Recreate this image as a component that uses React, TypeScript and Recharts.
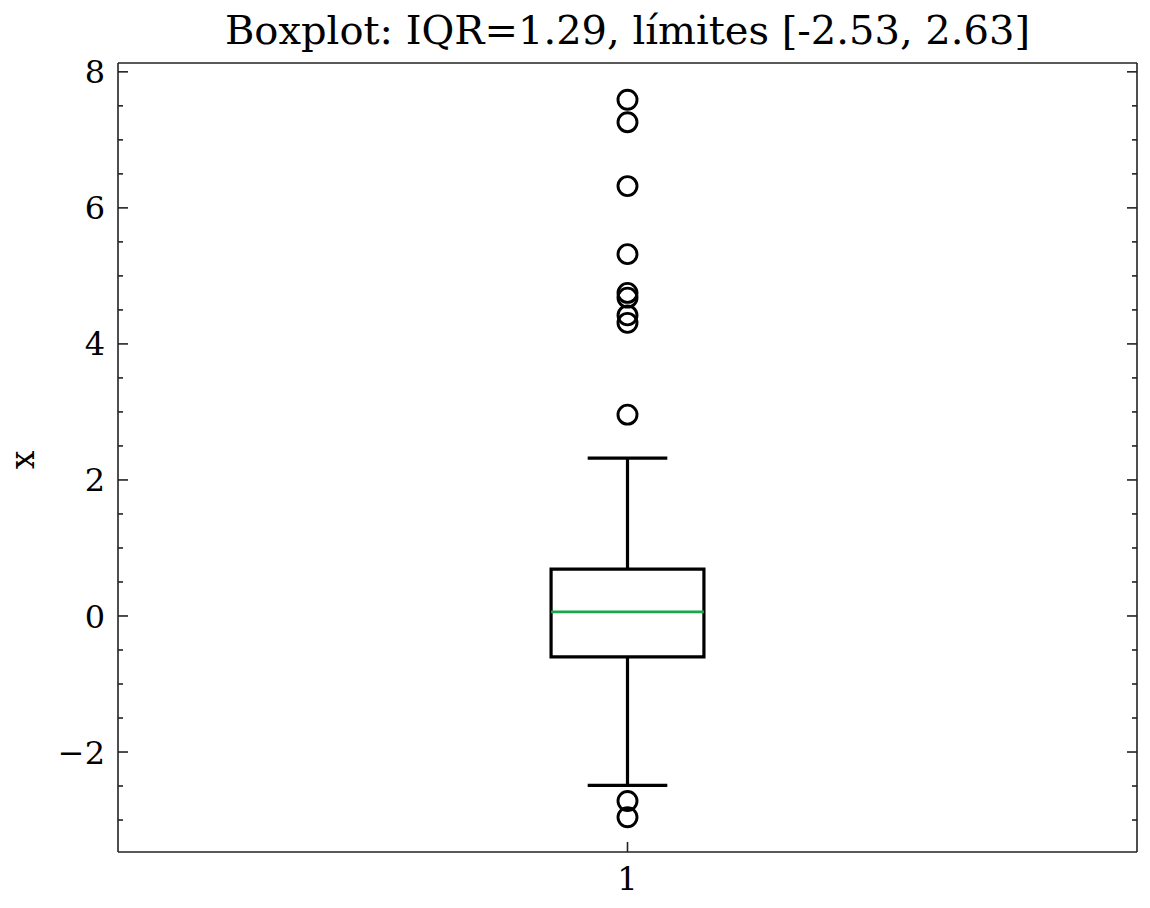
import React from "react";
import {
  ComposedChart,
  Scatter,
  XAxis,
  YAxis,
  ReferenceArea,
  ReferenceLine,
} from "recharts";

// box statistics
const positions = [1];
const lowerQuartile = [-0.6];
const medians = [0.06];
const upperQuartile = [0.69];
const lowerWhisker = [-2.49];
const upperWhisker = [2.32];
const outlierValues = [7.59, 7.26, 6.32, 5.32, 4.75, 4.68, 4.42, 4.31, 2.96, -2.72, -2.96];

const yMajorTicks = [-2, 0, 2, 4, 6, 8];
const yAllTicks = [-3, -2.5, -2, -1.5, -1, -0.5, 0, 0.5, 1, 1.5, 2, 2.5, 3, 3.5, 4, 4.5, 5, 5.5, 6, 6.5, 7, 7.5, 8];
const xTicks = [1];

const FONT = "'DejaVu Serif', serif";
const INK = "#222";
const BOX_W = 0.15;

const outlierData = outlierValues.map((v) => ({ x: positions[0], y: v }));

const LeftTick = (props: any) => {
  const { x, y, payload } = props;
  const major = yMajorTicks.includes(payload.value);
  return (
    <g>
      <line x1={x} x2={x + (major ? 10 : 5)} y1={y} y2={y} stroke={INK} strokeWidth={1.6} />
      {major && (
        <text x={x - 13} y={y} dy="0.36em" textAnchor="end" fontFamily={FONT} fontSize={32} fill="#000">
          {payload.value < 0 ? `\u2212${Math.abs(payload.value)}` : payload.value}
        </text>
      )}
    </g>
  );
};

const RightTick = (props: any) => {
  const { x, y, payload } = props;
  const major = yMajorTicks.includes(payload.value);
  return <line x1={x} x2={x - (major ? 10 : 5)} y1={y} y2={y} stroke={INK} strokeWidth={1.6} />;
};

const BottomTick = (props: any) => {
  const { x, y, payload } = props;
  return (
    <g>
      <line x1={x} x2={x} y1={y} y2={y - 10} stroke={INK} strokeWidth={1.6} />
      <text x={x} y={y + 38} textAnchor="middle" fontFamily={FONT} fontSize={32} fill="#000">
        {payload.value}
      </text>
    </g>
  );
};

const TopTick = (props: any) => {
  const { x, y } = props;
  return <line x1={x} x2={x} y1={y} y2={y + 10} stroke={INK} strokeWidth={1.6} />;
};

const Ring = (props: any) => {
  const { cx, cy } = props;
  return <circle cx={cx} cy={cy} r={9.5} fill="none" stroke="#000" strokeWidth={2.9} />;
};

export default function App() {
  const p = positions[0];
  return (
    <div style={{ position: "relative", width: 1142, height: 900 }}>
      <div
        style={{
          position: "absolute",
          left: 110,
          width: 1019,
          top: 2,
          textAlign: "center",
          fontFamily: FONT,
          fontSize: 40,
          lineHeight: "40px",
          color: "#000",
          whiteSpace: "nowrap",
        }}
      >
        Boxplot: IQR=1.29, límites [-2.53, 2.63]
      </div>
      <div
        style={{
          position: "absolute",
          left: 14,
          top: 452,
          transform: "translate(-50%, -50%) rotate(-90deg)",
          fontFamily: FONT,
          fontSize: 33,
          lineHeight: 1,
          color: "#000",
        }}
      >
        x
      </div>
      <ComposedChart
        width={1142}
        height={900}
        margin={{ top: 54, right: 12, bottom: 55, left: 109 }}
      >
        <XAxis
          xAxisId="bottom"
          type="number"
          dataKey="x"
          domain={[0.5, 1.5]}
          ticks={xTicks}
          interval={0}
          height={1}
          tickSize={0}
          tickMargin={0}
          tickLine={false}
          tick={<BottomTick />}
          axisLine={{ stroke: INK, strokeWidth: 1.6 }}
          allowDataOverflow
        />
        <XAxis
          xAxisId="top"
          orientation="top"
          type="number"
          domain={[0.5, 1.5]}
          ticks={xTicks}
          interval={0}
          height={1}
          tickSize={0}
          tickMargin={0}
          tickLine={false}
          tick={<TopTick />}
          axisLine={{ stroke: INK, strokeWidth: 1.6 }}
          allowDataOverflow
        />
        <YAxis
          yAxisId="left"
          type="number"
          dataKey="y"
          domain={[-3.47, 8.13]}
          ticks={yAllTicks}
          interval={0}
          width={1}
          tickSize={0}
          tickMargin={0}
          tickLine={false}
          tick={<LeftTick />}
          axisLine={{ stroke: INK, strokeWidth: 1.6 }}
          allowDataOverflow
        />
        <YAxis
          yAxisId="right"
          orientation="right"
          type="number"
          domain={[-3.47, 8.13]}
          ticks={yAllTicks}
          interval={0}
          width={1}
          tickSize={0}
          tickMargin={0}
          tickLine={false}
          tick={<RightTick />}
          axisLine={{ stroke: INK, strokeWidth: 1.6 }}
          allowDataOverflow
        />

        {/* whiskers */}
        <ReferenceLine
          xAxisId="bottom"
          yAxisId="left"
          segment={[{ x: p, y: upperQuartile[0] }, { x: p, y: upperWhisker[0] }]}
          stroke="#000"
          strokeWidth={3.2}
        />
        <ReferenceLine
          xAxisId="bottom"
          yAxisId="left"
          segment={[{ x: p, y: lowerQuartile[0] }, { x: p, y: lowerWhisker[0] }]}
          stroke="#000"
          strokeWidth={3.2}
        />
        {/* caps */}
        <ReferenceLine
          xAxisId="bottom"
          yAxisId="left"
          segment={[{ x: p - BOX_W / 4, y: upperWhisker[0] }, { x: p + BOX_W / 4, y: upperWhisker[0] }]}
          stroke="#000"
          strokeWidth={3.2}
          strokeLinecap="square"
        />
        <ReferenceLine
          xAxisId="bottom"
          yAxisId="left"
          segment={[{ x: p - BOX_W / 4, y: lowerWhisker[0] }, { x: p + BOX_W / 4, y: lowerWhisker[0] }]}
          stroke="#000"
          strokeWidth={3.2}
          strokeLinecap="square"
        />
        {/* box */}
        <ReferenceArea
          xAxisId="bottom"
          yAxisId="left"
          x1={p - BOX_W / 2}
          x2={p + BOX_W / 2}
          y1={lowerQuartile[0]}
          y2={upperQuartile[0]}
          fill="#fff"
          fillOpacity={1}
          stroke="#000"
          strokeWidth={3.2}
        />
        <ReferenceLine
          xAxisId="bottom"
          yAxisId="left"
          segment={[{ x: p - BOX_W / 2, y: medians[0] }, { x: p + BOX_W / 2, y: medians[0] }]}
          stroke="#16a84a"
          strokeWidth={2.8}
        />

        <Scatter
          xAxisId="bottom"
          yAxisId="left"
          data={outlierData}
          shape={<Ring />}
          isAnimationActive={false}
        />
      </ComposedChart>
    </div>
  );
}
